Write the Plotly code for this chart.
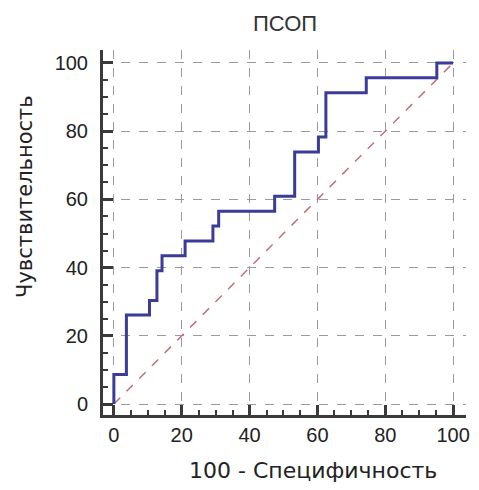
import plotly.graph_objects as go

# ROC step curve (100 - specificity, sensitivity)
fpr = [0, 0, 3.7, 3.7, 10.5, 10.5, 12.7, 12.7, 14.2, 14.2, 21.0, 21.0, 29.2, 29.2,
       30.9, 30.9, 47.4, 47.4, 53.3, 53.3, 60.3, 60.3, 62.5, 62.5, 74.4, 74.4, 95.2, 95.2, 100]
tpr = [0, 8.7, 8.7, 26.1, 26.1, 30.4, 30.4, 39.1, 39.1, 43.5, 43.5, 47.8, 47.8, 52.2,
       52.2, 56.5, 56.5, 60.9, 60.9, 73.9, 73.9, 78.3, 78.3, 91.3, 91.3, 95.7, 95.7, 100, 100]
diag = [0, 100]
tickvals = [0, 20, 40, 60, 80, 100]

fig = go.Figure()
fig.add_trace(go.Scatter(x=diag, y=diag, mode="lines",
                         line=dict(color="#bb7378", width=1.5, dash="dash"), hoverinfo="skip"))
fig.add_trace(go.Scatter(x=fpr, y=tpr, mode="lines",
                         line=dict(color="#3b3b98", width=3)))

axis_common = dict(
    tickvals=tickvals, showline=True, linewidth=3, linecolor="#3a3a3a",
    ticks="inside", ticklen=10, tickwidth=2.5, tickcolor="#3a3a3a",
    showgrid=True, gridcolor="#9a9a9a", griddash="dash", gridwidth=1,
    zeroline=False, tickfont=dict(family="Liberation Sans, Arial", size=20, color="#222"),
    minor=dict(dtick=5, ticks="inside", ticklen=5, tickwidth=1.5, tickcolor="#3a3a3a", showgrid=False),
    mirror=False,
)

fig.update_layout(
    width=479, height=490,
    margin=dict(l=103, r=9, t=50, b=75),
    plot_bgcolor="white", paper_bgcolor="white",
    showlegend=False,
    title=dict(text="ПСОП", x=0.595, xanchor="center", y=0.953, yanchor="middle",
               font=dict(family="Liberation Sans, Arial", size=22, color="#333")),
    xaxis=dict(range=[-3.2, 103.8], **axis_common),
    yaxis=dict(range=[-3.2, 103.8], ticklabelstandoff=8, **axis_common),
    annotations=[
        dict(text="100 - Специфичность", xref="paper", yref="paper",
             x=0.579, y=-0.152, xanchor="center", yanchor="middle", showarrow=False,
             font=dict(family="DejaVu Sans", size=22, color="#222")),
        dict(text="Чувствительность", xref="paper", yref="paper",
             x=-0.215, y=0.6, xanchor="center", yanchor="middle", showarrow=False,
             textangle=-90, font=dict(family="DejaVu Sans", size=21, color="#222")),
    ],
)

fig.write_html("out.html")
